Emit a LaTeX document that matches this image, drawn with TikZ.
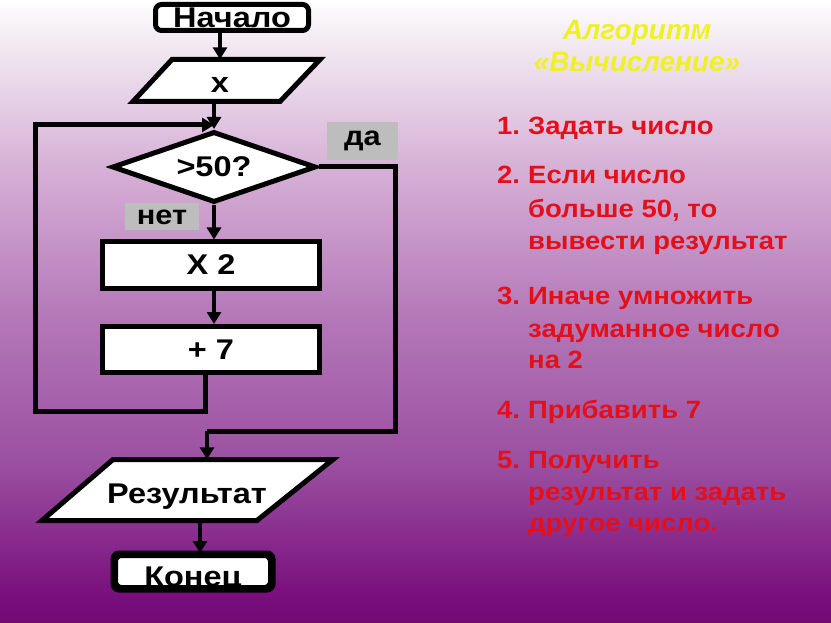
\documentclass[tikz,border=0pt]{standalone}
\usepackage{fontspec}
\setmainfont{Liberation Sans}
\newfontfamily\flowfont{Liberation Sans}[FakeStretch=1.14]
\newfontfamily\listfont{Liberation Sans}[FakeStretch=1.1]
\usetikzlibrary{arrows.meta,shapes.geometric,calc}
\definecolor{bgA}{HTML}{720A76}
\definecolor{bgB}{HTML}{780E7C}
\definecolor{bgC}{HTML}{9A4EA0}
\definecolor{bgD}{HTML}{B478B8}
\definecolor{bgE}{HTML}{D6B0D6}
\definecolor{bgF}{HTML}{F6F2F6}
\definecolor{txtred}{HTML}{E3101A}
\definecolor{ttlyel}{HTML}{F0F028}
\definecolor{lblgrey}{HTML}{BDBDBD}
\pgfdeclareverticalshading{bgshade}{100bp}{color(0bp)=(bgA); color(25bp)=(bgA); color(27bp)=(bgB); color(37.5bp)=(bgC); color(49.5bp)=(bgD); color(61.5bp)=(bgE); color(73bp)=(bgF); color(75bp)=(white); color(100bp)=(white)}
\tikzset{
  flowtxt/.style={font=\flowfont\fontsize{28.5}{30}\selectfont\bfseries, text=black},
  boxnode/.style={flowtxt, draw=black, fill=white, line width=5pt, inner sep=0pt},
  termbox/.style={boxnode, rounded corners=6pt},
  procbox/.style={boxnode, minimum width=217pt, minimum height=46pt},
  ionode/.style={flowtxt, inner sep=0pt, text depth=0pt},
  iobox/.style={draw=black, fill=white, line width=5pt, line join=miter},
  decbox/.style={boxnode, diamond, minimum width=204pt, minimum height=71pt, aspect=2.8},
  flowarrow/.style={draw=black, line width=4pt, -{Triangle[width=14pt,length=12pt]}},
  flowline/.style={draw=black, line width=5pt},
  answer/.style={font=\flowfont\fontsize{27}{29}\selectfont\bfseries, text=black, fill=lblgrey, inner sep=0pt},
  listtxt/.style={font=\listfont\fontsize{25}{28}\selectfont\bfseries, text=txtred, inner sep=0pt, anchor=base west},
  titletxt/.style={font=\fontsize{28}{30}\selectfont\bfseries\itshape, text=ttlyel, inner sep=0pt, anchor=base}
}
\begin{document}
\begin{tikzpicture}[x=1pt,y=-1pt]
\useasboundingbox (0,0) rectangle (831,623);
\shade[shading=bgshade] (0,0) rectangle (831,623);

% start
\node[termbox, minimum width=153pt, minimum height=26pt] (start) at (232,17.5) {Начало};

% input x
\path[iobox] (172,59.5) -- (320,59.5) -- (280,101.5) -- (133,101.5) -- cycle;
\node[ionode, text height=25pt, minimum height=42pt] (xin) at (220,80.5) {x};

% decision
\node[decbox] (dec) at (214,167) {>50?};

% labels
\node[answer, minimum width=71pt, minimum height=38pt] (da) at (362.5,141) {да};
\node[answer, minimum width=74pt, minimum height=27pt] (net) at (162,217) {нет};

% process boxes
\node[procbox] (mult) at (211,265) {X 2};
\node[procbox] (plus) at (211,349.5) {+ 7};

% result
\path[iobox] (113,459.5) -- (333,459.5) -- (257,520.5) -- (42,520.5) -- cycle;
\node[ionode, text height=26pt, minimum height=61pt, minimum width=10pt] (res) at (187,490) {Результат};

% end
\node[termbox, minimum width=155pt, minimum height=32pt] (fin) at (193,571.5) {};
\node[flowtxt, anchor=base, inner sep=0pt] (fintxt) at (193,586) {Конец};
\draw[line width=5pt, rounded corners=6pt] (fin.south west) rectangle (fin.north east);

% coordinates
\coordinate (lbl) at (35,411);
\coordinate (ltl) at (35,125);
\coordinate (ytr) at (395,167);
\coordinate (ybr) at (395,431);

% connectors
\draw[flowarrow] (start.south -| xin.north) -- (xin.north);
\draw[flowarrow] (xin.south -| dec.north) -- (dec.north);
\draw[flowarrow] (dec.south) -- (dec.south |- mult.north);
\draw[flowarrow] (mult.south -| dec.south) -- (dec.south |- plus.north);
\draw[flowline] ([xshift=-6pt]plus.south) |- (lbl) -- (ltl) -- ($(ltl -| dec.north)+(-6,0)$);
\draw[flowarrow] ($(ltl -| dec.north)+(-10,0)$) -- ($(ltl -| dec.north)+(0,0)$);
\draw[flowline, line join=miter] (dec.east) -- (ytr) -- (ybr) -- ([xshift=20pt]res.north |- ybr);
\draw[flowarrow] ([xshift=20pt]res.north |- ybr) -- ([xshift=20pt]res.north);
\draw[flowarrow] ([xshift=13pt]res.south) -- ([xshift=13pt]res.south |- fin.north);

% title
\node[titletxt] (t1) at (637,40) {Алгоритм};
\node[titletxt] (t2) at (637,72) {«Вычисление»};

% list
\node[listtxt] (n1) at (497,135) {1.};
\node[listtxt] (l1) at (528,135) {Задать число};
\node[listtxt] (n2) at (497,184) {2.};
\node[listtxt] (l2a) at (528,184) {Если число};
\node[listtxt] (l2b) at (528,218) {больше 50, то};
\node[listtxt] (l2c) at (528,250) {вывести результат};
\node[listtxt] (n3) at (497,305) {3.};
\node[listtxt] (l3a) at (528,305) {Иначе умножить};
\node[listtxt] (l3b) at (528,337) {задуманное число};
\node[listtxt] (l3c) at (528,368) {на 2};
\node[listtxt] (n4) at (497,418) {4.};
\node[listtxt] (l4) at (528,418) {Прибавить 7};
\node[listtxt] (n5) at (497,468) {5.};
\node[listtxt] (l5a) at (528,468) {Получить};
\node[listtxt] (l5b) at (528,500) {результат и задать};
\node[listtxt] (l5c) at (528,531) {другое число.};
\end{tikzpicture}
\end{document}
